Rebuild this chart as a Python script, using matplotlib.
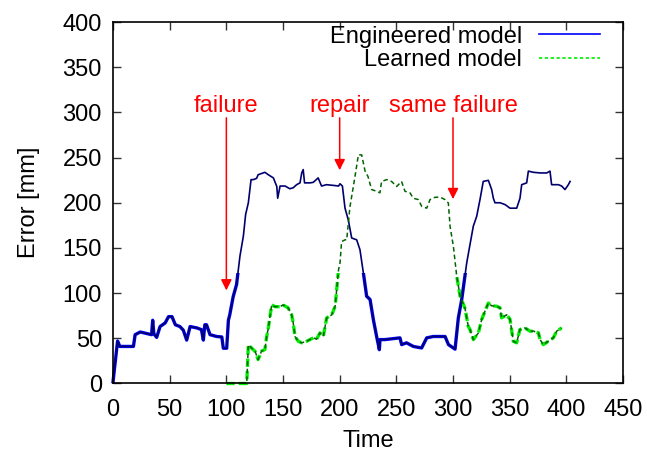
import numpy as np
import matplotlib
matplotlib.use('Agg')
import matplotlib.pyplot as plt
from matplotlib.lines import Line2D
from matplotlib.patches import Rectangle

plt.rcParams['font.family'] = ['Liberation Sans', 'DejaVu Sans']

# engineered model error
eng_t = [0, 4, 6, 18, 19.5, 24, 34, 35, 36, 38.5, 41.5, 46, 49, 52, 55, 59, 62, 65,
         68, 74, 78, 79.7, 81, 82.5, 85.6, 91.5, 96, 97.3, 100.3, 101.8, 103, 106,
         109, 112, 115, 117, 119.4, 121.8, 123.8, 126.7, 128, 134, 137, 141.5, 144.5,
         145.3, 147.4, 151.8, 156, 159, 162, 165, 166.5, 167.8, 169, 173.8, 176.7,
         181, 184, 188.4, 196, 199, 200.3, 202.4, 204.7, 207.6, 210.6, 215, 217.9,
         220.9, 223.8, 226.8, 229.7, 232.6, 235, 235.6, 240, 253.2, 254.7, 259, 265,
         272.3, 276.8, 282.6, 288.5, 293, 296, 301.8, 304.7, 307.7, 312.1, 315, 317.9,
         320.9, 323.8, 326.7, 331.2, 334.1, 335.6, 337, 341.5, 345.9, 350.3, 356.2,
         359.1, 360.6, 365, 366.5, 370.9, 376.8, 382.7, 385.6, 387, 393, 395.9, 398.8,
         401.8, 403.3]
eng_err = [2, 47, 41, 41, 54, 57, 54, 70, 55, 51, 63, 67, 74, 74, 65, 63, 59, 48,
           63, 61.5, 59.6, 48, 65, 65, 54, 52, 51.5, 39, 39, 70, 76, 96,
           109.5, 141, 163, 187, 200, 225.6, 225.6, 227, 231, 233.7, 231, 227.5, 218,
           205, 218.5, 218.5, 215.5, 216.6, 220, 222, 233, 236.7, 222, 222, 222.6,
           227.5, 218.5, 220, 219, 218.5, 221, 218.5, 194, 181, 161, 159, 148,
           122.4, 96.5, 93, 70.8, 52, 37.4, 48.6, 48.6, 50.5, 43, 45, 41,
           39.3, 50.5, 52, 52, 52, 43, 38, 72.6, 93, 133.5, 153.8, 174,
           185, 203.5, 223.6, 224.8, 214.6, 205, 200, 200, 198, 194, 194,
           205, 220, 222, 235, 233.7, 233, 233, 235, 220, 220, 218.5, 214.6,
           220, 223.6]

# learned model error
lrn_t = [100, 118, 119.4, 122.4, 125.3, 128, 131, 134, 135.6, 137, 140, 142.9, 147.4,
         150, 154.5, 157.6, 159, 160.6, 163.5, 166.5, 170.8, 176.7, 179.6, 182.6,
         185.5, 188.5, 193, 196, 199, 200.3, 201.7, 204.7, 206.2, 209, 213.5, 216.5,
         219.4, 222.4, 225, 228.2, 232.6, 235.5, 237, 241.5, 245.8, 250.3, 254.6,
         257.6, 262, 265, 269.4, 272.4, 276.8, 279.7, 284, 288.5, 293, 295.9, 297.4,
         300.3, 303.3, 306.2, 310.6, 313.5, 315, 318, 322.4, 325.3, 328.2, 331.2, 334,
         338.5, 341.5, 342.9, 347.3, 350.3, 353.2, 356.2, 359, 363.5, 368, 371, 375.4,
         376.8, 379.7, 384, 388.5, 391.5, 395.9]
lrn_err = [0, 0, 43, 39, 35.7, 26.5, 35.7, 37.5, 52, 61, 87, 85, 85,
           87, 83.7, 76, 67, 52, 46.7, 45, 46.7, 50.5, 49, 56,
           52, 72.5, 76, 85.5, 126, 133.5, 157, 159, 159, 195, 229, 253,
           253, 235, 229, 214.6, 212.7, 211, 223.6, 225.6, 223.6, 218, 223.6,
           212.7, 211, 205, 203.5, 196, 194, 203.5, 206, 206.3, 203.5, 199.7, 174,
           152, 118.6, 97, 83, 63, 59.7, 48.6, 56, 70.8, 80, 89, 86,
           85.5, 83.7, 72.6, 76, 71, 46.7, 45, 59.7, 61.5, 57.8, 58, 56,
           48.6, 43, 46.7, 50.5, 58, 61.5]

events = ['failure', 'repair', 'same failure']
event_t = [100, 200, 300]
arrow_tip = [103, 236, 204]

fs = 17

fig = plt.figure(figsize=(6.47, 4.54), dpi=100)
ax = fig.add_axes([0.1747, 0.1553, 0.7882, 0.7962])

# bright wide lines show only in the lower band, dark thin ones on top
low_band = Rectangle((-10, -10), 500, 132, transform=ax.transData)
l1, = ax.plot(eng_t, eng_err, color='#0000ff', lw=2.4)
l1.set_clip_path(low_band)
l2, = ax.plot(lrn_t, lrn_err, color='#00ee00', lw=2.4, dashes=(2.5, 1.2))
l2.set_clip_path(low_band)
ax.plot(eng_t, eng_err, color='#00006e', lw=1.2)
ax.plot(lrn_t, lrn_err, color='#006400', lw=1.1, dashes=(3, 2))

for name, t, tip in zip(events, event_t, arrow_tip):
    ax.annotate('', xy=(t, tip), xytext=(t, 294),
                arrowprops=dict(arrowstyle='-|>', color='#ff0000', lw=1.1,
                                mutation_scale=16, shrinkA=0, shrinkB=0))
    ax.text(t, 307, name, color='#ff0000', fontsize=fs, ha='center', va='center')

ax.set_xlim(0, 450)
ax.set_ylim(0, 400)
ax.set_xticks(np.arange(0, 451, 50))
ax.set_yticks(np.arange(0, 401, 50))
ax.tick_params(direction='in', top=True, right=True, length=6, width=1,
               labelsize=fs, color='#333333')
ax.tick_params(axis='x', pad=11)
ax.tick_params(axis='y', pad=8)
for s in ax.spines.values():
    s.set_linewidth(1.2)
ax.set_xlabel('Time', fontsize=fs, labelpad=7)
ax.set_ylabel('Error [mm]', fontsize=fs, labelpad=16)

handles = [Line2D([], [], color='#0000ff', lw=1.2),
           Line2D([], [], color='#00ee00', lw=1.2, dashes=(2, 1.5))]
ax.legend(handles, ['Engineered model', 'Learned model'], loc='upper right',
          bbox_to_anchor=(0.955, 0.99), frameon=False, markerfirst=False,
          fontsize=fs, handlelength=2.6, handletextpad=0.7,
          labelspacing=0.05, borderaxespad=0.0, borderpad=0.0)

fig.savefig('out.png', dpi=100)
